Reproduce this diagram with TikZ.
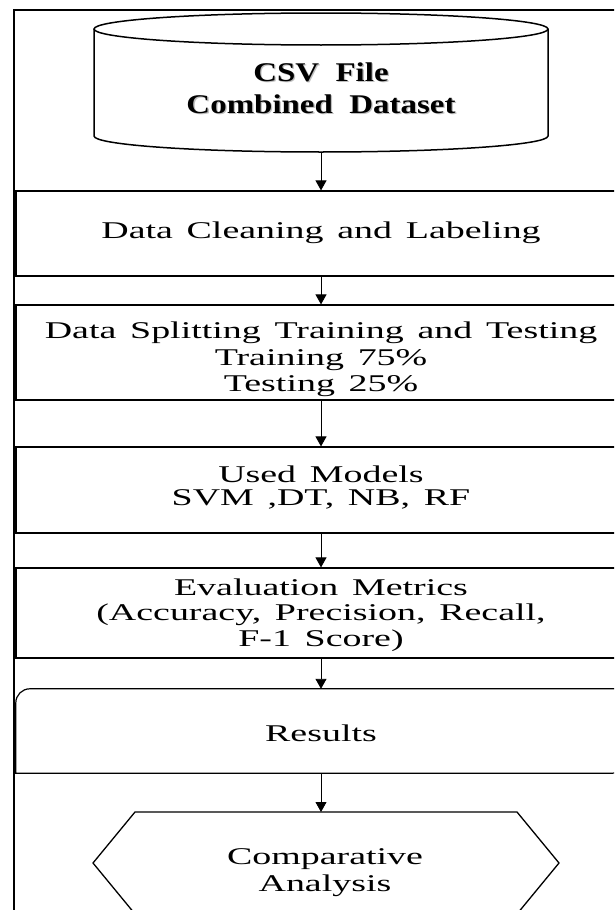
\documentclass[tikz,border=0pt]{standalone}
\usepackage{fontspec}
\setmainfont[FakeStretch=1.58, WordSpace=1.45]{Liberation Serif}
\newfontfamily\titlefont[FakeStretch=1.22, WordSpace=2.0]{Liberation Serif}
\usetikzlibrary{arrows.meta}
% centred lines whose baseline is the first line
\newcommand{\stacklines}[1]{\begin{tabular}[t]{@{}c@{}}#1\end{tabular}}

\begin{document}
\begin{tikzpicture}[x=1pt,y=1pt,
  frameline/.style={line width=1.2pt},
  stage/.style={draw, line width=1.2pt, minimum width=610pt, inner sep=0pt},
  label text/.style={inner sep=0pt, anchor=base},
  flow/.style={-{Triangle[width=11pt,length=10pt]}, line width=0.9pt}
]
\useasboundingbox (0,0) rectangle (614,-910);
\clip (0,0) rectangle (614,-910);
\fill[white] (0,0) rectangle (614,-910);

% outer frame
\draw[frameline] (14,-10) rectangle (660,-960);

% data store (cylinder)
\draw[line width=1.5pt, fill=white] (94,-29) -- (94,-136)
  arc[start angle=180, end angle=360, x radius=227, y radius=16] -- (548,-29);
\draw[line width=1.5pt] (321,-29) ellipse[x radius=227, y radius=16];
\node[label text, text=black!25, font=\titlefont\bfseries\fontsize{27}{32}\selectfont]
  (csvshadow) at (322.3,-82.3) {\stacklines{CSV File\\Combined Dataset}};
\node[label text, font=\titlefont\bfseries\fontsize{27}{32}\selectfont]
  (csv) at (321,-81) {\stacklines{CSV File\\Combined Dataset}};
\coordinate (csvbase) at (321,-152);

% process steps
\node[stage, minimum height=85pt] (clean) at (321,-233.5) {};
\node[label text, font=\fontsize{24}{26.7}\selectfont] (cleantext) at (321,-238)
  {\stacklines{Data Cleaning and Labeling}};

\node[stage, minimum height=95pt] (split) at (321,-352.5) {};
\node[label text, font=\fontsize{24}{26.7}\selectfont] (splittext) at (321,-338.3)
  {\stacklines{Data Splitting Training and Testing\\Training 75\%\\Testing 25\%}};

\node[stage, minimum height=86pt] (models) at (321,-490) {};
\node[label text, font=\fontsize{24}{23.5}\selectfont] (modelstext) at (321,-482)
  {\stacklines{Used Models\\SVM ,DT, NB, RF}};

\node[stage, minimum height=90pt] (metrics) at (321,-613) {};
\node[label text, font=\fontsize{24}{25.5}\selectfont] (metricstext) at (321,-595)
  {\stacklines{Evaluation Metrics\\(Accuracy, Precision, Recall,\\F-1 Score)}};

% results (diagonal rounded corners)
\node[inner sep=0pt, minimum width=610pt, minimum height=84pt] (results) at (321,-731) {};
\draw[line width=1.2pt] (results.south west) -- ([yshift=-14pt]results.north west)
  arc[start angle=180, end angle=90, radius=14pt] -- (results.north east)
  -- ([yshift=14pt]results.south east)
  arc[start angle=0, end angle=-90, radius=14pt] -- cycle;
\node[label text, font=\fontsize{24}{26.7}\selectfont] (resultstext) at (321,-741)
  {\stacklines{Results}};

% comparative analysis (hexagon)
\draw[line width=1.3pt] (135,-812) -- (517,-812) -- (559,-863) -- (517,-914)
  -- (135,-914) -- (93,-863) -- cycle;
\coordinate (hextop) at (321,-812);
\node[label text, font=\fontsize{24}{27}\selectfont] (compare) at (325,-864)
  {\stacklines{Comparative\\Analysis}};

% connectors
\draw[flow] (csvbase) -- (clean.north);
\draw[flow] (clean.south) -- (split.north);
\draw[flow] (split.south) -- (models.north);
\draw[flow] (models.south) -- (metrics.north);
\draw[flow] (metrics.south) -- (results.north);
\draw[flow] (results.south) -- (hextop);
\end{tikzpicture}
\end{document}
